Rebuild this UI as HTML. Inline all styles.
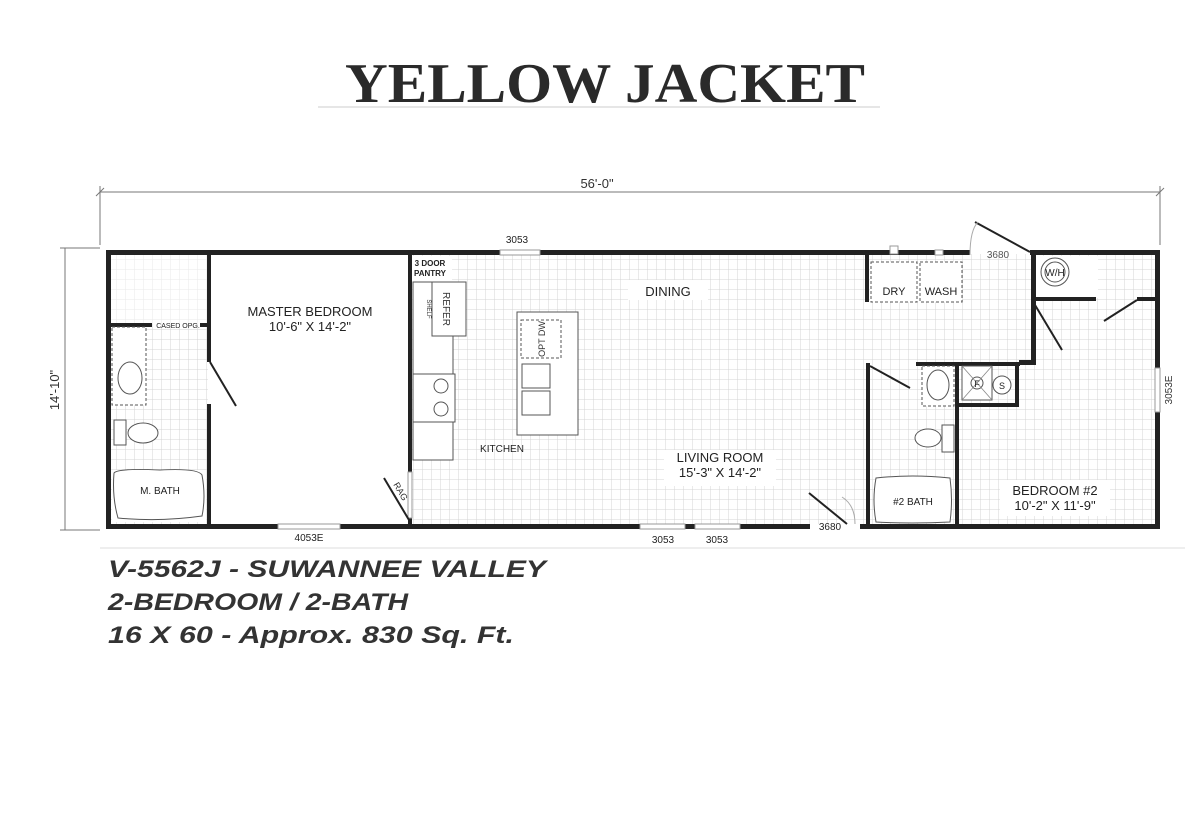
<!DOCTYPE html>
<html><head><meta charset="utf-8"><style>html,body{margin:0;padding:0;background:#fff}svg{display:block}</style></head>
<body>
<svg width="1200" height="818" viewBox="0 0 1200 818" xmlns="http://www.w3.org/2000/svg" font-family="Liberation Sans, sans-serif">
<defs>
<pattern id="g" width="9" height="10" patternUnits="userSpaceOnUse">
<path d="M9 0V10M0 10H9" stroke="#d4d4d4" stroke-width="1" fill="none"/>
</pattern>
</defs>
<rect width="1200" height="818" fill="#fff"/>
<text x="345" y="102" font-family="Liberation Serif, serif" font-weight="bold" font-size="56" fill="#2a2a2a" textLength="520" lengthAdjust="spacingAndGlyphs">YELLOW JACKET</text>
<line x1="318" y1="107" x2="880" y2="107" stroke="#ccc" stroke-width="1"/>

<g stroke="#777" stroke-width="1" fill="none">
<line x1="100" y1="192" x2="1160" y2="192"/>
<line x1="100" y1="186" x2="100" y2="245"/><line x1="1160" y1="186" x2="1160" y2="245"/>
<line x1="96" y1="196" x2="104" y2="188"/><line x1="1156" y1="196" x2="1164" y2="188"/>
<line x1="65" y1="248" x2="65" y2="530"/>
<line x1="60" y1="248" x2="100" y2="248"/><line x1="60" y1="530" x2="100" y2="530"/>
<line x1="100" y1="548" x2="1185" y2="548" stroke="#ddd"/>
</g>
<text x="597" y="188" font-size="13" text-anchor="middle" fill="#333">56'-0"</text>
<text transform="translate(59,390) rotate(-90)" font-size="13" text-anchor="middle" fill="#333">14'-10"</text>

<rect x="110" y="254" width="98" height="270" fill="url(#g)"/>
<rect x="410" y="254" width="746" height="270" fill="url(#g)"/>
<rect x="110" y="254" width="98" height="70" fill="#fff" opacity="0.5"/>
<rect x="112" y="470" width="94" height="52" fill="#fff"/>
<rect x="412" y="256" width="40" height="26" fill="#fff"/>
<rect x="870" y="262" width="92" height="40" fill="#fff"/>
<rect x="1036" y="256" width="62" height="42" fill="#fff"/>
<rect x="1000" y="480" width="110" height="36" fill="#fff"/>
<rect x="664" y="450" width="112" height="36" fill="#fff"/>
<rect x="628" y="280" width="80" height="20" fill="#fff"/>
<rect x="876" y="482" width="74" height="38" fill="#fff"/>

<g fill="#222">
<rect x="106" y="250" width="394" height="5"/>
<rect x="540" y="250" width="430" height="5"/>
<rect x="1030" y="250" width="130" height="5"/>
<rect x="106" y="524" width="172" height="5"/>
<rect x="340" y="524" width="300" height="5"/>
<rect x="740" y="524" width="70" height="5"/>
<rect x="860" y="524" width="300" height="5"/>
<rect x="685" y="524" width="10" height="5"/>
<rect x="106" y="250" width="5" height="279"/>
<rect x="1155" y="250" width="5" height="118"/>
<rect x="1155" y="412" width="5" height="117"/>
<rect x="207" y="250" width="4" height="112"/>
<rect x="207" y="404" width="4" height="125"/>
<rect x="110" y="323" width="42" height="4"/>
<rect x="200" y="323" width="8" height="4"/>
<rect x="408" y="250" width="4" height="222"/>
<rect x="408" y="518" width="4" height="10"/>
<rect x="865" y="250" width="4" height="52"/>
<rect x="866" y="363" width="4" height="165"/>
<rect x="916" y="362" width="104" height="4"/>
<rect x="955" y="362" width="4" height="166"/>
<rect x="1015" y="362" width="4" height="44"/>
<rect x="959" y="403" width="60" height="4"/>
<rect x="1031" y="250" width="5" height="115"/>
<rect x="1019" y="360" width="17" height="5"/>
<rect x="1033" y="297" width="63" height="4"/>
<rect x="1137" y="297" width="20" height="4"/>
</g>
<g fill="#fff" stroke="#999" stroke-width="1">
<rect x="500" y="250" width="40" height="5"/>
<rect x="278" y="524" width="62" height="5"/>
<rect x="640" y="524" width="45" height="5"/>
<rect x="695" y="524" width="45" height="5"/>
<rect x="1155" y="368" width="5" height="44"/>
<rect x="408" y="472" width="4" height="46"/>
<rect x="890" y="246" width="8" height="8"/>
<rect x="935" y="250" width="8" height="5"/>
</g>
<g stroke="#222" stroke-width="2" fill="none">
<line x1="210" y1="362" x2="236" y2="406"/>
<line x1="384" y1="478" x2="409" y2="520"/>
<line x1="975" y1="222" x2="1030" y2="252"/>
<line x1="809" y1="493" x2="847" y2="524"/>
<line x1="1035" y1="305" x2="1062" y2="350"/>
<line x1="1137" y1="300" x2="1104" y2="321"/>
<line x1="870" y1="366" x2="910" y2="388"/>
</g>
<g stroke="#aaa" stroke-width="1" fill="none">
<path d="M970 255 Q970 230 978 222"/>
<path d="M855 524 Q855 505 842 497"/>
</g>

<g stroke="#555" stroke-width="1" fill="#fff">
<rect x="112" y="327" width="34" height="78" stroke-dasharray="3 2"/>
<ellipse cx="130" cy="378" rx="12" ry="16"/>
<rect x="114" y="420" width="12" height="25"/>
<ellipse cx="143" cy="433" rx="15" ry="10"/>
<path d="M114 473 Q118 468 160 470 Q198 468 202 475 Q206 497 202 516 Q160 522 118 518 Q112 497 114 473Z"/>
<rect x="413" y="282" width="40" height="178"/>
<rect x="432" y="282" width="34" height="54"/>
<rect x="413" y="374" width="42" height="48"/>
<circle cx="441" cy="386" r="7"/><circle cx="441" cy="409" r="7"/>
<rect x="517" y="312" width="61" height="123"/>
<rect x="521" y="320" width="40" height="38" stroke-dasharray="3 2"/>
<rect x="522" y="364" width="28" height="24"/><rect x="522" y="391" width="28" height="24"/>
<rect x="871" y="262" width="46" height="40" stroke-dasharray="3 2"/>
<rect x="920" y="262" width="42" height="40" stroke-dasharray="3 2"/>
<circle cx="1055" cy="272" r="14"/><circle cx="1055" cy="272" r="10"/>
<rect x="922" y="366" width="32" height="40" stroke-dasharray="3 2"/>
<ellipse cx="938" cy="385" rx="11" ry="15"/>
<rect x="942" y="425" width="12" height="27"/>
<ellipse cx="928" cy="438" rx="13" ry="9"/>
<path d="M876 478 Q912 474 950 478 Q953 500 950 522 Q912 524 876 522 Q872 500 876 478Z"/>
<rect x="962" y="366" width="30" height="34"/>
<circle cx="977" cy="383" r="6"/>
<circle cx="1002" cy="385" r="9"/>
</g>
<g stroke="#888" stroke-width="0.8">
<line x1="962" y1="366" x2="992" y2="400"/><line x1="992" y1="366" x2="962" y2="400"/>
</g>

<g fill="#222" font-size="13" text-anchor="middle">
<text x="310" y="316">MASTER BEDROOM</text>
<text x="310" y="331">10'-6" X 14'-2"</text>
<text x="668" y="296">DINING</text>
<text x="720" y="462">LIVING ROOM</text>
<text x="720" y="477">15'-3" X 14'-2"</text>
<text x="1055" y="495">BEDROOM #2</text>
<text x="1055" y="510">10'-2" X 11'-9"</text>
</g>
<g fill="#222" font-size="10" text-anchor="middle">
<text x="160" y="494">M. BATH</text>
<text x="913" y="505">#2 BATH</text>
<text x="502" y="452">KITCHEN</text>
<text x="894" y="295" font-size="11">DRY</text>
<text x="941" y="295" font-size="11">WASH</text>
<text x="1055" y="276">W/H</text>
<text x="977" y="387" font-size="9">F</text>
<text x="1002" y="389" font-size="9">S</text>
<text x="517" y="243">3053</text>
<text x="998" y="258" fill="#555">3680</text>
<text x="309" y="541">4053E</text>
<text x="663" y="543">3053</text>
<text x="717" y="543">3053</text>
<text x="830" y="530">3680</text>
<text x="430" y="266" font-size="8" font-weight="bold">3 DOOR</text>
<text x="430" y="276" font-size="8" font-weight="bold">PANTRY</text>
<text x="178" y="328" font-size="7">CASED OPG.</text>
</g>
<text transform="translate(443,309) rotate(90)" font-size="10" text-anchor="middle" fill="#333">REFER</text>
<text transform="translate(427,309) rotate(90)" font-size="6" text-anchor="middle" fill="#333">SHELF</text>
<text transform="translate(545,339) rotate(-90)" font-size="9" text-anchor="middle" fill="#333">OPT DW</text>
<text transform="translate(398,493) rotate(60)" font-size="9" text-anchor="middle" fill="#333">RAG</text>
<text transform="translate(1172,390) rotate(-90)" font-size="10" text-anchor="middle" fill="#333">3053E</text>

<g font-weight="bold" font-style="italic" font-size="24" fill="#333">
<text x="108" y="577" textLength="438" lengthAdjust="spacingAndGlyphs">V-5562J - SUWANNEE VALLEY</text>
<text x="108" y="610" textLength="300" lengthAdjust="spacingAndGlyphs">2-BEDROOM / 2-BATH</text>
<text x="108" y="643" textLength="406" lengthAdjust="spacingAndGlyphs">16 X 60 - Approx. 830 Sq. Ft.</text>
</g>
</svg>
</body></html>
